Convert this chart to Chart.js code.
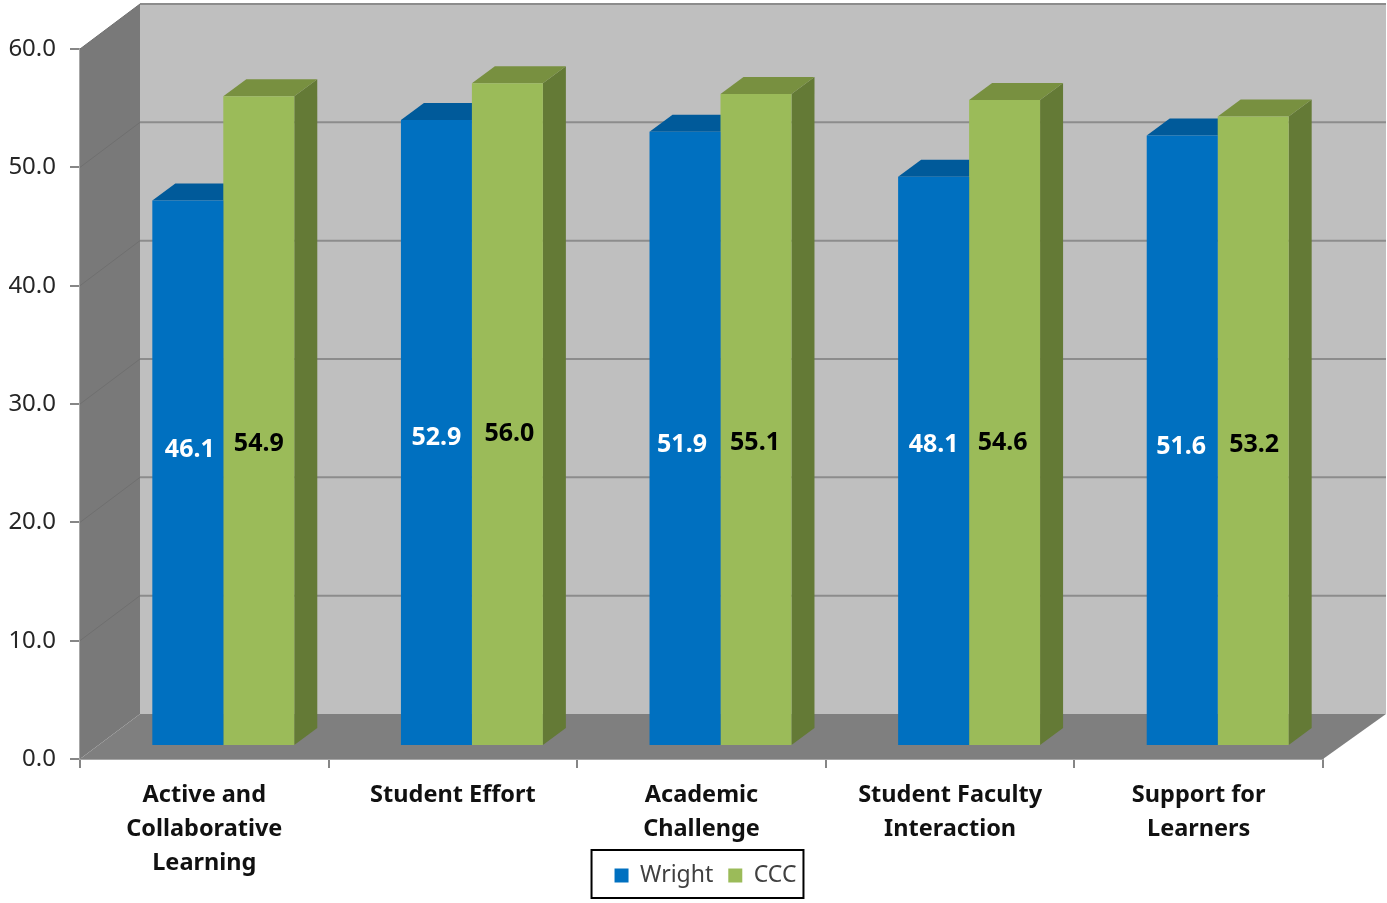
<!DOCTYPE html>
<html>
<head>
<meta charset="utf-8">
<title>Wright vs CCC</title>
<script src="https://cdn.jsdelivr.net/npm/chart.js@4/dist/chart.umd.min.js"></script>
<style>
html, body { margin: 0; padding: 0; background: #fff; }
#wrap { width: 1387px; height: 903px; }
</style>
</head>
<body>
<div id="wrap"><canvas id="chart"></canvas></div>
<script>
const categories = [
    ['Active and', 'Collaborative', 'Learning'],
    ['Student Effort'],
    ['Academic', 'Challenge'],
    ['Student Faculty', 'Interaction'],
    ['Support for', 'Learners']
];
const wright = [46.1, 52.9, 51.9, 48.1, 51.6];
const ccc = [54.9, 56.0, 55.1, 54.6, 53.2];

const FONT = '"Noto Sans", sans-serif';
// depth of the whole box and of one bar, and how far the bars sit from the front edge
const boxDepth = { x: 60, y: -45, rightExtra: 3 };
const barDepth = { x: 23, y: -17 };
const barShift = { x: 19, y: -13 };

function poly(ctx, pts, fill) {
    ctx.beginPath();
    pts.forEach((p, i) => i ? ctx.lineTo(p[0], p[1]) : ctx.moveTo(p[0], p[1]));
    ctx.closePath();
    ctx.fillStyle = fill;
    ctx.fill();
}

const box3d = {
    id: 'box3d',
    afterLayout(chart) {
        // tick labels run under the legend, so the axis must not clip them
        chart.scales.x.bottom = chart.height;
        // legend sits higher and further right than the layout puts it
        const lg = chart.legend;
        lg.left += 44; lg.right += 44;
        lg.top -= 6; lg.bottom -= 6;
    },
    beforeDatasetsDraw(chart) {
        const { ctx, chartArea: a, scales: { y } } = chart;
        const dx = boxDepth.x, dy = boxDepth.y, rx = a.right + dx + boxDepth.rightExtra;
        ctx.save();
        // walls and floor
        poly(ctx, [[a.left + dx, a.top + dy], [rx, a.top + dy], [rx, a.bottom + dy], [a.left + dx, a.bottom + dy]], '#bfbfbf');
        poly(ctx, [[a.left, a.top], [a.left + dx, a.top + dy], [a.left + dx, a.bottom + dy], [a.left, a.bottom]], '#797979');
        poly(ctx, [[a.left, a.bottom], [a.left + dx, a.bottom + dy], [rx, a.bottom + dy], [a.right, a.bottom]], '#7f7f7f');
        y.ticks.forEach(t => {
            const py = y.getPixelForValue(t.value);
            if (t.value > 0) {
                ctx.strokeStyle = '#6f6f6f';
                ctx.lineWidth = 1;
                ctx.beginPath();
                ctx.moveTo(a.left, py);
                ctx.lineTo(a.left + dx, py + dy);
                ctx.stroke();
                ctx.strokeStyle = '#8c8c8c';
                ctx.lineWidth = 2;
                ctx.beginPath();
                ctx.moveTo(a.left + dx, py + dy);
                ctx.lineTo(rx, py + dy);
                ctx.stroke();
            }
        });
        // top and side of every bar go first: the front faces must cover them
        ctx.translate(barShift.x, barShift.y);
        const bx = barDepth.x, by = barDepth.y;
        chart.data.datasets.forEach((ds, d) => {
            chart.getDatasetMeta(d).data.forEach(bar => {
                const l = bar.x - bar.width / 2, r = bar.x + bar.width / 2;
                poly(ctx, [[r, bar.y], [r + bx, bar.y + by], [r + bx, bar.base + by], [r, bar.base]], ds.sideColor);
                poly(ctx, [[l, bar.y], [l + bx, bar.y + by], [r + bx, bar.y + by], [r, bar.y]], ds.topColor);
            });
        });
        ctx.restore();
    },
    beforeDatasetDraw(chart) {
        chart.ctx.save();
        chart.ctx.translate(barShift.x, barShift.y);
    },
    afterDatasetDraw(chart) {
        chart.ctx.restore();
    },
    afterDraw(chart) {
        const { ctx } = chart;
        // legend frame
        const hit = chart.legend.legendHitBoxes;
        const first = hit[0], last = hit[hit.length - 1];
        ctx.save();
        ctx.strokeStyle = '#000';
        ctx.lineWidth = 2;
        ctx.strokeRect(first.left - 23, first.top - 14, last.left + last.width - first.left + 30, first.height + 25);
        // value labels
        ctx.font = 'bold 25px ' + FONT;
        ctx.textAlign = 'center';
        ctx.textBaseline = 'middle';
        chart.data.datasets.forEach((ds, d) => {
            chart.getDatasetMeta(d).data.forEach((bar, i) => {
                ctx.fillStyle = ds.labelColor;
                ctx.fillText(ds.data[i].toFixed(1), bar.x + barShift.x + ds.labelNudgeX[i], ds.labelY[i]);
            });
        });
        ctx.restore();
    }
};

new Chart(document.getElementById('chart'), {
    type: 'bar',
    data: {
        labels: categories,
        datasets: [
            {
                label: 'Wright', data: wright,
                backgroundColor: '#0070c0', sideColor: '#004f88', topColor: '#005a9a',
                labelColor: '#fff', labelNudgeX: [2, 0, -3, 0, -1], labelY: [450, 438, 445, 445, 447]
            },
            {
                label: 'CCC', data: ccc,
                backgroundColor: '#9bbb59', sideColor: '#647a36', topColor: '#789040',
                labelColor: '#000', labelNudgeX: [0, 2, -1, -2, 1], labelY: [444, 434, 443, 443, 445]
            }
        ]
    },
    options: {
        responsive: true,
        maintainAspectRatio: false,
        animation: false,
        layout: { padding: { top: 49, right: 64, bottom: 0, left: 0 } },
        datasets: { bar: { categoryPercentage: 0.571, barPercentage: 1, borderWidth: 0, clip: false } },
        plugins: {
            tooltip: { enabled: false },
            legend: {
                position: 'bottom',
                labels: {
                    boxWidth: 14, boxHeight: 14, padding: 15, color: '#404040',
                    font: { family: FONT, size: 23 }
                }
            }
        },
        scales: {
            x: {
                grid: { drawOnChartArea: false, color: '#868686', tickColor: '#868686', tickLength: 9, lineWidth: 2 },
                border: { color: '#a6a6a6', width: 2 },
                ticks: {
                    color: '#111', padding: 10, maxRotation: 0, autoSkip: false,
                    font: { family: FONT, size: 23.5, weight: 'bold', lineHeight: 1.447 }
                },
                afterFit(s) { s.height = 96; }
            },
            y: {
                min: 0, max: 60,
                grid: { drawOnChartArea: false, color: '#868686', tickColor: '#868686', tickLength: 10, lineWidth: 2 },
                border: { color: '#a6a6a6', width: 2 },
                ticks: {
                    stepSize: 10, color: '#262626', padding: 14,
                    font: { family: FONT, size: 24 },
                    callback: v => v.toFixed(1)
                },
                afterFit(s) { s.width = 80; }
            }
        }
    },
    plugins: [box3d]
});
</script>
</body>
</html>
